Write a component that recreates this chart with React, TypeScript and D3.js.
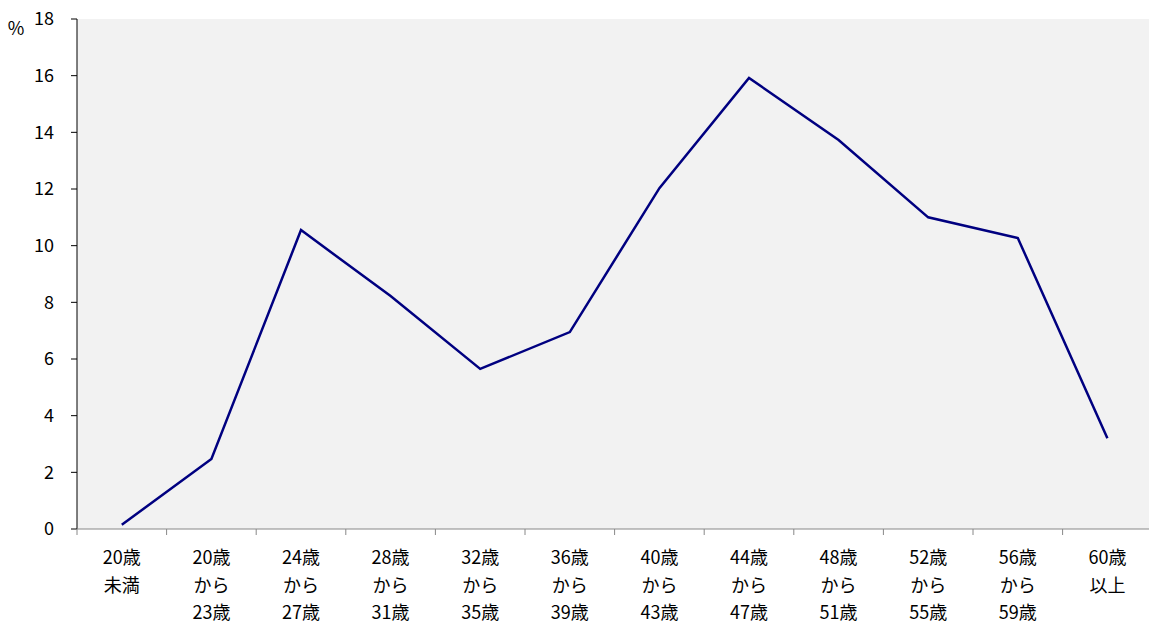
import React, { useEffect, useRef } from "react";
import * as d3 from "d3";

const categories: string[][] = [
	["20歳", "未満"],
	["20歳", "から", "23歳"],
	["24歳", "から", "27歳"],
	["28歳", "から", "31歳"],
	["32歳", "から", "35歳"],
	["36歳", "から", "39歳"],
	["40歳", "から", "43歳"],
	["44歳", "から", "47歳"],
	["48歳", "から", "51歳"],
	["52歳", "から", "55歳"],
	["56歳", "から", "59歳"],
	["60歳", "以上"],
];
const values = [0.15, 2.47, 10.55, 8.22, 5.65, 6.95, 12.03, 15.92, 13.73, 11.0, 10.27, 3.2];
const yTicks = [0, 2, 4, 6, 8, 10, 12, 14, 16, 18];

const W = 1149;
const H = 624;
const FONT = "'Noto Sans CJK JP', 'Noto Sans', sans-serif";

const App: React.FC = () => {
	const svgRef = useRef<SVGSVGElement | null>(null);

	useEffect(() => {
		const svg = d3.select(svgRef.current);
		svg.selectAll("*").remove();

		const left = 77;
		const top = 19;
		const bottom = 529;
		const band = 89.6;

		const x = d3
			.scaleBand<number>()
			.domain(d3.range(categories.length))
			.range([left, left + band * categories.length]);
		const y = d3.scaleLinear().domain([0, 18]).range([bottom, top]);

		svg.append("rect")
			.attr("x", left)
			.attr("y", top)
			.attr("width", W - left)
			.attr("height", bottom - top)
			.attr("fill", "#f2f2f2");

		// y axis
		const ya = svg.append("g");
		ya.append("line")
			.attr("x1", left).attr("x2", left)
			.attr("y1", top).attr("y2", bottom)
			.attr("stroke", "#000").attr("stroke-width", 1);
		ya.selectAll(".yt")
			.data(yTicks)
			.enter()
			.append("line")
			.attr("x1", left - 6).attr("x2", left)
			.attr("y1", (d) => y(d)).attr("y2", (d) => y(d))
			.attr("stroke", "#000");
		ya.selectAll(".yl")
			.data(yTicks)
			.enter()
			.append("text")
			.attr("x", 54)
			.attr("y", (d) => y(d))
			.attr("dy", "0.36em")
			.attr("text-anchor", "end")
			.style("font-family", FONT)
			.style("font-size", "18px")
			.text((d) => d);
		svg.append("text")
			.attr("x", 16)
			.attr("y", 35)
			.attr("text-anchor", "middle")
			.style("font-family", FONT)
			.style("font-size", "18px")
			.text("%");

		// x axis
		svg.append("line")
			.attr("x1", left).attr("x2", W)
			.attr("y1", bottom).attr("y2", bottom)
			.attr("stroke", "#888").attr("stroke-width", 1);
		svg.selectAll(".xt")
			.data(d3.range(categories.length + 1))
			.enter()
			.append("line")
			.attr("x1", (i) => left + i * x.bandwidth())
			.attr("x2", (i) => left + i * x.bandwidth())
			.attr("y1", bottom).attr("y2", bottom + 6)
			.attr("stroke", "#888");
		const labels = svg.selectAll(".xl")
			.data(categories)
			.enter()
			.append("text")
			.attr("text-anchor", "middle")
			.style("font-family", FONT)
			.style("font-size", "18px");
		labels.selectAll("tspan")
			.data((d, i) => d.map((s) => ({ s, i })))
			.enter()
			.append("tspan")
			.attr("x", (d) => (x(d.i) as number) + x.bandwidth() / 2)
			.attr("y", (_d, j) => 564 + j * 27.5)
			.text((d) => d.s);

		const line = d3
			.line<number>()
			.x((_d, i) => (x(i) as number) + x.bandwidth() / 2)
			.y((d) => y(d));
		svg.append("path")
			.datum(values)
			.attr("d", line)
			.attr("fill", "none")
			.attr("stroke", "#000080")
			.attr("stroke-width", 2.5);
	}, []);

	return (
		<svg
			ref={svgRef}
			width={W}
			height={H}
			style={{ position: "absolute", left: 0, top: 0, background: "#fff" }}
		></svg>
	);
};

export default App;
